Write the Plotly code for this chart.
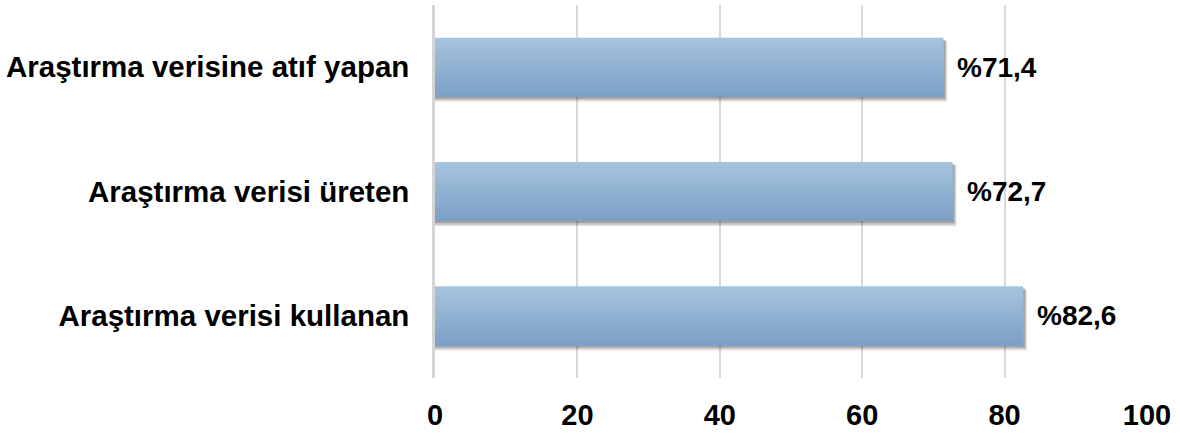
import plotly.graph_objects as go

# ---- data ----
categories = ["Araştırma verisi kullanan", "Araştırma verisi üreten", "Araştırma verisine atıf yapan"]
values = [82.6, 72.7, 71.4]
value_labels = ["%82,6", "%72,7", "%71,4"]
x_ticks = [0, 20, 40, 60, 80, 100]

# ---- style ----
FONT = "Arial, Liberation Sans, Helvetica, sans-serif"
TOP_RGB = (166, 195, 221)
BOT_RGB = (124, 161, 199)
BAR_W = 0.475
N_STRIPS = 24

fig = go.Figure()

# soft shadow (offset right/down)
for dx, dy, extra, alpha in [(0.55, 0.035, 0.012, 0.10), (0.40, 0.026, 0.006, 0.14), (0.25, 0.016, 0.0, 0.18)]:
    fig.add_trace(go.Bar(
        x=[v + dx for v in values], y=categories, orientation="h",
        width=BAR_W + extra, offset=-BAR_W / 2 - dy - extra / 2,
        marker=dict(color=f"rgba(0,0,0,{alpha})", line=dict(width=0)),
        hoverinfo="skip", showlegend=False,
    ))

# gradient bar made of overlapping strips (top light -> bottom dark)
ws = BAR_W / N_STRIPS
for k in range(N_STRIPS):
    t = k / (N_STRIPS - 1)
    r, g, b = [round(TOP_RGB[i] + (BOT_RGB[i] - TOP_RGB[i]) * t) for i in range(3)]
    height = BAR_W - k * ws
    fig.add_trace(go.Bar(
        x=values, y=categories, orientation="h",
        width=height, offset=-BAR_W / 2,
        marker=dict(color=f"rgb({r},{g},{b})", line=dict(width=0)),
        hoverinfo="skip", showlegend=False,
    ))

for v, c, lab in zip(values, categories, value_labels):
    fig.add_annotation(
        x=v, y=c, text=f"<b>{lab}</b>", showarrow=False,
        xanchor="left", yanchor="middle", xshift=12,
        font=dict(family=FONT, size=28, color="black"),
    )

fig.update_layout(
    width=1180, height=436,
    margin=dict(l=435, r=33, t=5, b=54),
    barmode="overlay",
    paper_bgcolor="white", plot_bgcolor="white",
    showlegend=False,
)
fig.update_xaxes(
    range=[0, 100], tickvals=x_ticks, ticktext=[f"<b>{t}</b>" for t in x_ticks],
    tickfont=dict(family=FONT, size=29, color="black"),
    showgrid=True, gridcolor="#d9d9d9", gridwidth=1.5,
    zeroline=False, showline=False, ticks="", ticklabelstandoff=17,
)
fig.update_yaxes(
    type="category", categoryorder="array", categoryarray=categories,
    range=[-0.5, 2.5],
    tickvals=categories, ticktext=[f"<b>{c}</b>" for c in categories],
    tickfont=dict(family=FONT, size=29.5, color="black"),
    showgrid=False, zeroline=False,
    showline=True, linecolor="#d4d4d4", linewidth=2.5,
    ticks="", ticklabelstandoff=17,
)

fig.write_html("out.html")
